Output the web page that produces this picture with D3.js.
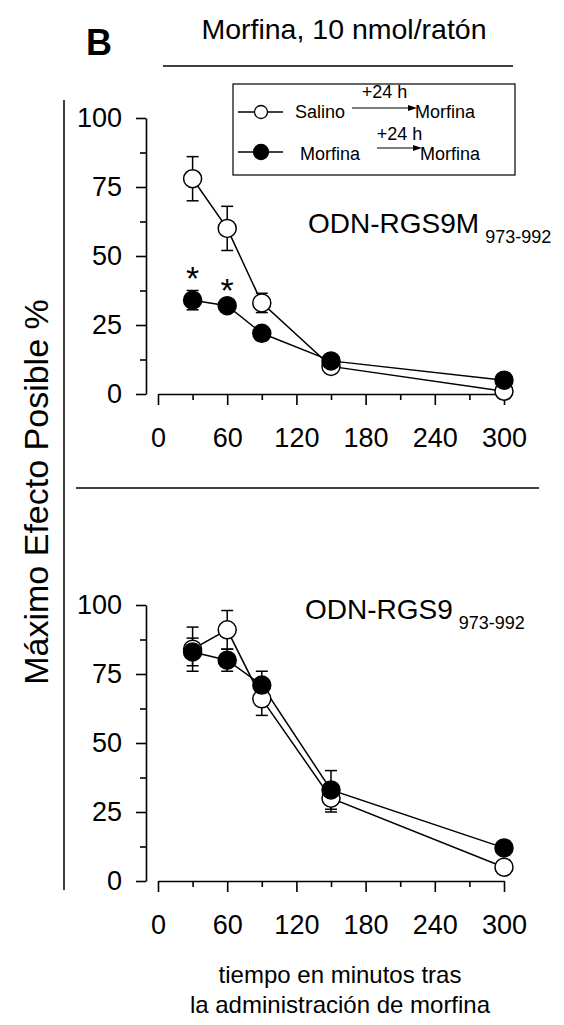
<!DOCTYPE html>
<html>
<head>
<meta charset="utf-8">
<script src="https://cdn.jsdelivr.net/npm/d3@7"></script>
<style>
  body { margin: 0; background: #fff; }
  text { font-family: Arial, "Liberation Sans", sans-serif; fill: #000; }
</style>
</head>
<body>
<svg id="mySvg"></svg>
<script>
const width = 564;
const height = 1025;

// data
const times = [30, 60, 90, 150, 300];
const xTicksMajor = [0, 60, 120, 180, 240, 300];
const xTicksMinor = [30, 90, 150, 210, 270];
const yTicksMajor = [0, 25, 50, 75, 100];
const yTicksMinor = [12.5, 37.5, 62.5, 87.5];

// top panel: ODN-RGS9M
const topSalino = [78, 60, 33, 10, 1];
const topSalinoErr = [8, 8, 3.5, 1.5, 1];
const topMorfina = [34, 32, 22, 12, 5];
const topMorfinaErr = [3.5, 1, 1.5, 1.5, 1];
const topStars = [30, 60];

// bottom panel: ODN-RGS9
const botSalino = [84, 91, 66, 30, 5];
const botSalinoErr = [8, 7, 6, 5, 1];
const botMorfina = [83, 80, 71, 33, 12];
const botMorfinaErr = [5, 4, 5, 7, 1];

const svg = d3.select("#mySvg").attr("width", width).attr("height", height);

const x = d3.scaleLinear().domain([0, 300]).range([158, 504]);
const yAxisX = 146;

// "B" and header
svg.append("text").attr("x", 86).attr("y", 55)
  .style("font-size", "36px").style("font-weight", "bold").text("B");
svg.append("text").attr("x", 344).attr("y", 39).attr("text-anchor", "middle")
  .style("font-size", "28.5px").text("Morfina, 10 nmol/ratón");
svg.append("line").attr("x1", 163).attr("x2", 513).attr("y1", 66).attr("y2", 66)
  .attr("stroke", "#000").attr("stroke-width", 1.5);

// left vertical rule + y label
svg.append("line").attr("x1", 64).attr("x2", 64).attr("y1", 100).attr("y2", 890)
  .attr("stroke", "#000").attr("stroke-width", 1.5);
svg.append("text")
  .attr("transform", "translate(48, 492) rotate(-90)")
  .attr("text-anchor", "middle")
  .style("font-size", "34px")
  .text("Máximo Efecto Posible %");

// divider between panels
svg.append("line").attr("x1", 76).attr("x2", 539).attr("y1", 488).attr("y2", 488)
  .attr("stroke", "#000").attr("stroke-width", 1.5);

function drawPanel(y, xAxisY, salino, salinoErr, morfina, morfinaErr) {
  let g = svg.append("g");

  // y axis
  g.append("g").attr("transform", `translate(${yAxisX},0)`)
    .call(d3.axisLeft(y).tickValues(yTicksMajor).tickSize(10).tickPadding(14).tickSizeOuter(0));
  g.append("g").attr("transform", `translate(${yAxisX},0)`)
    .call(d3.axisLeft(y).tickValues(yTicksMinor).tickSize(6).tickFormat("").tickSizeOuter(0))
    .select(".domain").remove();

  // x axis
  g.append("g").attr("transform", `translate(0,${xAxisY})`)
    .call(d3.axisBottom(x).tickValues(xTicksMajor).tickSize(11).tickPadding(23).tickSizeOuter(0));
  g.append("g").attr("transform", `translate(0,${xAxisY})`)
    .call(d3.axisBottom(x).tickValues(xTicksMinor).tickSize(6).tickFormat("").tickSizeOuter(0))
    .select(".domain").remove();

  g.selectAll(".tick text").style("font-size", "27px").attr("font-family", null);
  g.selectAll(".domain, .tick line").attr("stroke", "#000").attr("stroke-width", 1.6);

  let line = d3.line().x((d) => x(d.t)).y((d) => y(d.v));

  let series = [
    { vals: salino, err: salinoErr, fill: "#fff" },
    { vals: morfina, err: morfinaErr, fill: "#000" }
  ];

  series.forEach((s) => {
    let pts = times.map((t, i) => ({ t: t, v: s.vals[i], e: s.err[i] }));

    g.append("path").datum(pts).attr("d", line)
      .attr("fill", "none").attr("stroke", "#000").attr("stroke-width", 1.5);

    let eb = g.append("g").selectAll("g").data(pts).enter().append("g");
    eb.append("line")
      .attr("x1", (d) => x(d.t)).attr("x2", (d) => x(d.t))
      .attr("y1", (d) => y(d.v - d.e)).attr("y2", (d) => y(d.v + d.e))
      .attr("stroke", "#000").attr("stroke-width", 1.5);
    [-1, 1].forEach((sgn) => {
      eb.append("line")
        .attr("x1", (d) => x(d.t) - 6).attr("x2", (d) => x(d.t) + 6)
        .attr("y1", (d) => y(d.v + sgn * d.e)).attr("y2", (d) => y(d.v + sgn * d.e))
        .attr("stroke", "#000").attr("stroke-width", 1.5);
    });
  });

  series.forEach((s) => {
    g.append("g").selectAll("circle").data(times).enter().append("circle")
      .attr("cx", (t) => x(t)).attr("cy", (t, i) => y(s.vals[i]))
      .attr("r", 9).attr("fill", s.fill).attr("stroke", "#000").attr("stroke-width", 1.5);
  });

  return g;
}

const yTop = d3.scaleLinear().domain([0, 100]).range([394, 118]);
const yBot = d3.scaleLinear().domain([0, 100]).range([881, 605]);

drawPanel(yTop, 394, topSalino, topSalinoErr, topMorfina, topMorfinaErr);
drawPanel(yBot, 881, botSalino, botSalinoErr, botMorfina, botMorfinaErr);

// significance stars above the Morfina error bars (top panel)
svg.selectAll(".star").data(topStars).enter().append("text")
  .attr("class", "star")
  .attr("x", (t) => x(t)).attr("text-anchor", "middle")
  .attr("y", (t) => {
    let i = times.indexOf(t);
    return yTop(topMorfina[i] + topMorfinaErr[i]) - 1;
  })
  .style("font-size", "34px")
  .text("*");

// panel labels
function panelLabel(xp, yp, main, sub) {
  let t = svg.append("text").attr("x", xp).attr("y", yp).style("font-size", "28px");
  t.append("tspan").text(main);
  t.append("tspan").attr("dx", 6).attr("dy", 10).style("font-size", "18px").text(sub);
}
panelLabel(308, 233, "ODN-RGS9M", "973-992");
panelLabel(305, 619, "ODN-RGS9", "973-992");

// legend
const legend = svg.append("g");
legend.append("rect").attr("x", 233).attr("y", 84).attr("width", 282).attr("height", 91)
  .attr("fill", "#fff").attr("stroke", "#000").attr("stroke-width", 1.2);

const legendRows = [
  { y: 112, fill: "#fff", r: 6.5, from: "Salino", fromX: 295, arrow: [352, 417], toX: 415, base: 118, hY: 98 },
  { y: 152, fill: "#000", r: 7.5, from: "Morfina", fromX: 300, arrow: [377, 422], toX: 420, base: 160, hY: 140 }
];

legendRows.forEach((r) => {
  legend.append("line").attr("x1", 238).attr("x2", 283).attr("y1", r.y).attr("y2", r.y)
    .attr("stroke", "#000").attr("stroke-width", 1.3);
  legend.append("circle").attr("cx", 261).attr("cy", r.y).attr("r", r.r)
    .attr("fill", r.fill).attr("stroke", "#000").attr("stroke-width", 1.3);
  legend.append("text").attr("x", r.fromX).attr("y", r.base).style("font-size", "18px").text(r.from);
  let ay = r.y - 4;
  legend.append("line").attr("x1", r.arrow[0]).attr("x2", r.arrow[1] - 5).attr("y1", ay).attr("y2", ay)
    .attr("stroke", "#000").attr("stroke-width", 1.2);
  legend.append("path")
    .attr("d", `M${r.arrow[1]},${ay} L${r.arrow[1] - 9},${ay - 3} L${r.arrow[1] - 9},${ay + 3} Z`)
    .attr("fill", "#000");
  legend.append("text").attr("x", (r.arrow[0] + r.arrow[1]) / 2).attr("y", r.hY)
    .attr("text-anchor", "middle").style("font-size", "18px").text("+24 h");
  legend.append("text").attr("x", r.toX).attr("y", r.base).style("font-size", "18px").text("Morfina");
});

// x axis title
svg.append("text").attr("x", 340).attr("y", 983).attr("text-anchor", "middle")
  .style("font-size", "24px").text("tiempo en minutos tras");
svg.append("text").attr("x", 340).attr("y", 1013).attr("text-anchor", "middle")
  .style("font-size", "24px").text("la administración de morfina");
</script>
</body>
</html>
